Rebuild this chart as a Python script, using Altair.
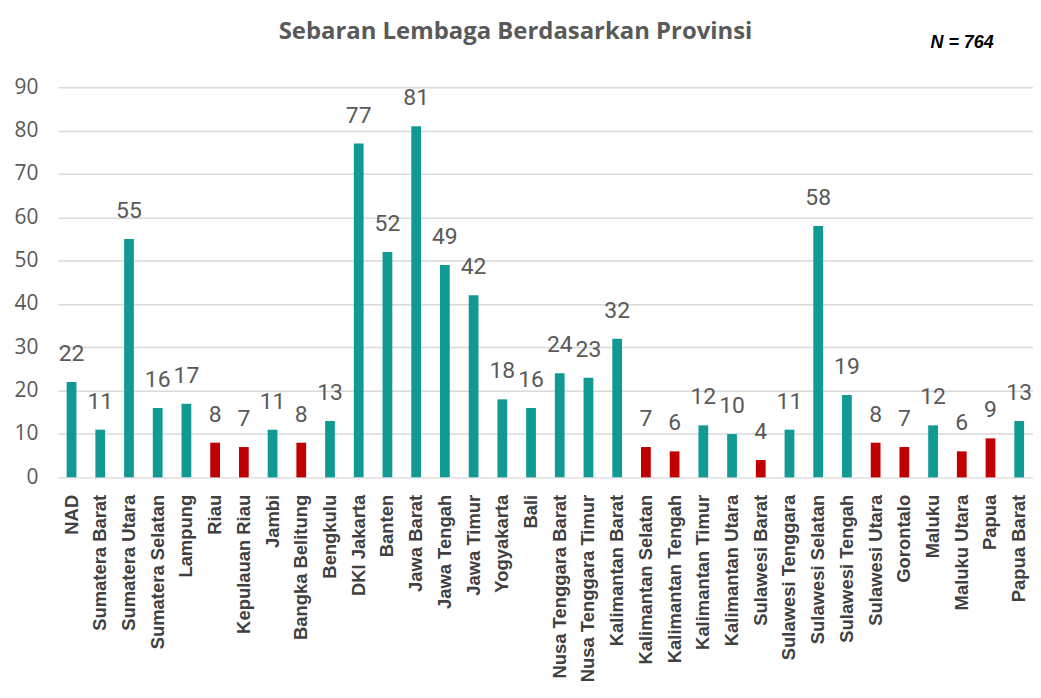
import altair as alt
import pandas as pd

provinces = [
    "NAD", "Sumatera Barat", "Sumatera Utara", "Sumatera Selatan", "Lampung",
    "Riau", "Kepulauan Riau", "Jambi", "Bangka Belitung", "Bengkulu",
    "DKI Jakarta", "Banten", "Jawa Barat", "Jawa Tengah", "Jawa Timur",
    "Yogyakarta", "Bali", "Nusa Tenggara Barat", "Nusa Tenggara Timur",
    "Kalimantan Barat", "Kalimantan Selatan", "Kalimantan Tengah",
    "Kalimantan Timur", "Kalimantan Utara", "Sulawesi Barat",
    "Sulawesi Tenggara", "Sulawesi Selatan", "Sulawesi Tengah",
    "Sulawesi Utara", "Gorontalo", "Maluku", "Maluku Utara", "Papua",
    "Papua Barat",
]
counts = [22, 11, 55, 16, 17, 8, 7, 11, 8, 13, 77, 52, 81, 49, 42, 18, 16,
          24, 23, 32, 7, 6, 12, 10, 4, 11, 58, 19, 8, 7, 12, 6, 9, 13]
groups = ["high" if c >= 10 else "low" for c in counts]
y_ticks = [0, 10, 20, 30, 40, 50, 60, 70, 80, 90]
title_text = "Sebaran Lembaga Berdasarkan Provinsi"
note_text = "N = 764"

df = pd.DataFrame({"Provinsi": provinces, "Jumlah": counts, "Grup": groups})

x_enc = alt.X(
    "Provinsi:N", sort=provinces, title=None,
    scale=alt.Scale(paddingInner=0.66, paddingOuter=0.31),
    axis=alt.Axis(labelAngle=-90, labelFont="Liberation Sans", labelFontWeight="bold",
                  labelFontSize=18.5, labelColor="#404040", labelPadding=17,
                  ticks=False, domain=False, labelLimit=400),
)
y_enc = alt.Y(
    "Jumlah:Q", title=None,
    scale=alt.Scale(domain=[0, 90], nice=False),
    axis=alt.Axis(values=y_ticks, labelFont="Open Sans", labelFontSize=21,
                  labelColor="#595959", labelPadding=20, ticks=False, domain=False,
                  grid=True, gridColor="#d9d9d9", gridWidth=1.5),
)

bars = alt.Chart(df).mark_bar().encode(
    x=x_enc, y=y_enc,
    color=alt.Color("Grup:N", scale=alt.Scale(domain=["high", "low"],
                                              range=["#119A94", "#C00000"]),
                    legend=None),
)

labels = alt.Chart(df).mark_text(
    baseline="alphabetic", dy=-21, font="Roboto", fontSize=23,
    color="#595959",
).encode(x=alt.X("Provinsi:N", sort=provinces), y="Jumlah:Q", text="Jumlah:Q")

note = alt.Chart(pd.DataFrame({"t": [note_text]})).mark_text(
    font="Liberation Sans", fontWeight="bold", fontStyle="italic", fontSize=18,
    color="#000000", align="left", baseline="middle",
).encode(x=alt.value(877), y=alt.value(-44), text="t:N")

title = alt.Chart(pd.DataFrame({"t": [title_text]})).mark_text(
    font="Open Sans", fontWeight="bold", fontSize=24,
    color="#595959", align="center", baseline="middle",
).encode(x=alt.value(460), y=alt.value(-56), text="t:N")

chart = alt.layer(bars, labels, note, title).properties(
    width=980, height=392,
    padding={"left": 50, "top": 78, "right": 0, "bottom": 212},
    autosize=alt.AutoSizeParams(type="none"),
).configure_view(stroke=None)

chart.save("out.html", embed_options={"renderer": "svg", "actions": False})
